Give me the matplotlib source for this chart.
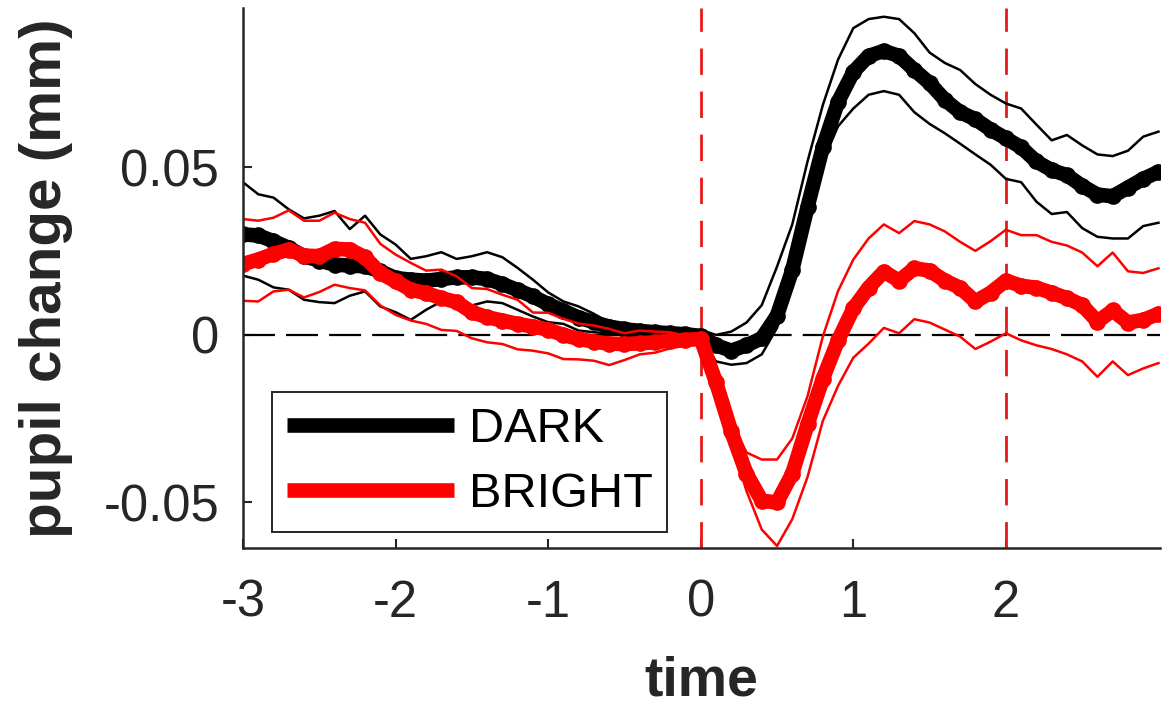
import numpy as np
import matplotlib
matplotlib.use('Agg')
import matplotlib.pyplot as plt

plt.rcParams['font.family'] = ['Liberation Sans', 'DejaVu Sans']
plt.rcParams['lines.scale_dashes'] = False

# time axis (s), 0.1 s steps from -3 to 3
time = np.round(np.arange(-3.0, 3.0001, 0.1), 2)

# DARK condition: mean and upper / lower bounds
dark_mean = [0.0300, 0.0297, 0.0280, 0.0260, 0.0235, 0.0222, 0.0210, 0.0207, 0.0205, 0.0190,
             0.0170, 0.0165, 0.0162, 0.0167, 0.0172, 0.0172, 0.0167, 0.0152, 0.0134, 0.0115,
             0.0092, 0.0072, 0.0052, 0.0038, 0.0025, 0.0017, 0.0012, 0.0008, 0.0005, 0.0002,
             -0.0003, -0.0031, -0.0047, -0.0031, -0.0010, 0.0058, 0.0194, 0.0382, 0.0560, 0.0696,
             0.0785, 0.0833, 0.0848, 0.0833, 0.0791, 0.0752, 0.0702, 0.0665, 0.0644, 0.0613,
             0.0587, 0.0560, 0.0518, 0.0492, 0.0477, 0.0445, 0.0419, 0.0414, 0.0440, 0.0466,
             0.0487]
dark_upper = [0.0456, 0.0420, 0.0410, 0.0375, 0.0348, 0.0356, 0.0370, 0.0316, 0.0356, 0.0300,
              0.0270, 0.0227, 0.0235, 0.0247, 0.0227, 0.0235, 0.0247, 0.0232, 0.0200, 0.0165,
              0.0127, 0.0100, 0.0085, 0.0063, 0.0036, 0.0035, 0.0022, 0.0010, 0.0008, 0.0010,
              0.0015, 0.0000, 0.0010, 0.0037, 0.0089, 0.0204, 0.0330, 0.0518, 0.0686, 0.0822,
              0.0916, 0.0943, 0.0950, 0.0943, 0.0901, 0.0843, 0.0812, 0.0791, 0.0749, 0.0717,
              0.0691, 0.0676, 0.0628, 0.0581, 0.0597, 0.0566, 0.0539, 0.0534, 0.0550, 0.0592,
              0.0607]
dark_lower = [0.0177, 0.0165, 0.0142, 0.0135, 0.0105, 0.0098, 0.0095, 0.0117, 0.0130, 0.0085,
              0.0068, 0.0045, 0.0075, 0.0100, 0.0095, 0.0088, 0.0100, 0.0095, 0.0075, 0.0055,
              0.0038, 0.0033, 0.0013, 0.0008, 0.0005, 0.0003, 0.0003, 0.0003, 0.0003, 0.0000,
              -0.0005, -0.0079, -0.0089, -0.0084, -0.0058, 0.0021, 0.0173, 0.0351, 0.0518, 0.0623,
              0.0676, 0.0717, 0.0728, 0.0717, 0.0665, 0.0630, 0.0602, 0.0571, 0.0539, 0.0508,
              0.0466, 0.0456, 0.0398, 0.0361, 0.0367, 0.0319, 0.0293, 0.0288, 0.0288, 0.0325,
              0.0335]

# BRIGHT condition
bright_mean = [0.0212, 0.0225, 0.0242, 0.0255, 0.0237, 0.0235, 0.0257, 0.0255, 0.0232, 0.0185,
               0.0160, 0.0135, 0.0125, 0.0110, 0.0098, 0.0068, 0.0053, 0.0043, 0.0033, 0.0025,
               0.0016, 0.0000, -0.0012, -0.0020, -0.0026, -0.0027, -0.0025, -0.0022, -0.0017, -0.0015,
               -0.0012, -0.0141, -0.0288, -0.0414, -0.0495, -0.0500, -0.0414, -0.0267, -0.0131, -0.0016,
               0.0079, 0.0141, 0.0189, 0.0162, 0.0199, 0.0192, 0.0162, 0.0141, 0.0100, 0.0126,
               0.0162, 0.0147, 0.0141, 0.0126, 0.0110, 0.0089, 0.0040, 0.0073, 0.0037, 0.0045,
               0.0063]
bright_upper = [0.0346, 0.0341, 0.0350, 0.0372, 0.0341, 0.0341, 0.0365, 0.0346, 0.0335, 0.0272,
                0.0240, 0.0215, 0.0192, 0.0195, 0.0175, 0.0140, 0.0137, 0.0120, 0.0105, 0.0067,
                0.0066, 0.0048, 0.0034, 0.0028, 0.0018, 0.0005, 0.0013, 0.0010, 0.0008, -0.0002,
                -0.0004, -0.0135, -0.0257, -0.0351, -0.0372, -0.0372, -0.0309, -0.0183, -0.0005, 0.0131,
                0.0225, 0.0288, 0.0330, 0.0304, 0.0340, 0.0330, 0.0309, 0.0278, 0.0251, 0.0280,
                0.0314, 0.0298, 0.0298, 0.0278, 0.0267, 0.0246, 0.0205, 0.0246, 0.0190, 0.0185,
                0.0199]
bright_lower = [0.0102, 0.0100, 0.0130, 0.0135, 0.0112, 0.0128, 0.0150, 0.0140, 0.0133, 0.0088,
                0.0060, 0.0043, 0.0033, 0.0015, 0.0012, -0.0010, -0.0022, -0.0027, -0.0043, -0.0047,
                -0.0055, -0.0072, -0.0073, -0.0077, -0.0090, -0.0075, -0.0058, -0.0053, -0.0040, -0.0032,
                -0.0022, -0.0152, -0.0319, -0.0466, -0.0581, -0.0630, -0.0550, -0.0424, -0.0257, -0.0152,
                -0.0068, -0.0026, 0.0021, 0.0005, 0.0047, 0.0037, 0.0016, -0.0005, -0.0042, -0.0020,
                0.0005, -0.0016, -0.0031, -0.0042, -0.0058, -0.0079, -0.0125, -0.0079, -0.0120, -0.0100,
                -0.0084]

event_times = [0, 2]
xticks = [-3, -2, -1, 0, 1, 2]
yticks = [-0.05, 0, 0.05]
ytick_labels = ['-0.05', '0', '0.05']
labels = ['DARK', 'BRIGHT']

axc = '#262626'

fig = plt.figure(figsize=(11.71, 7.11), dpi=100)
ax = fig.add_axes([0.2075, 0.2293, 0.7831, 0.7594])

ax.axhline(0, color='k', lw=1.6, dashes=(23, 8))
for t in event_times:
    ax.axvline(t, color=(0.9, 0.1, 0.1), lw=2.0, dashes=(19, 12))

thick = dict(lw=10.5, solid_capstyle='round', solid_joinstyle='round',
             marker='o', markersize=12, markeredgewidth=0)
ax.plot(time, dark_mean, color='k', **thick)
ax.plot(time, dark_upper, color='k', lw=1.8)
ax.plot(time, dark_lower, color='k', lw=1.8)
ax.plot(time, bright_mean, color='#ff0000', **thick)
ax.plot(time, bright_upper, color='#ff0000', lw=1.8)
ax.plot(time, bright_lower, color='#ff0000', lw=1.8)

ax.set_xlim(-3, 3.01)
ax.set_ylim(-0.0636, 0.0976)
ax.set_xticks(xticks)
ax.set_xticklabels([str(v) for v in xticks])
ax.set_yticks(yticks)
ax.set_yticklabels(ytick_labels)

for s in ['top', 'right']:
    ax.spines[s].set_visible(False)
for s in ['left', 'bottom']:
    ax.spines[s].set_color(axc)
    ax.spines[s].set_linewidth(1.8)
ax.tick_params(direction='in', length=6.5, width=1.5, colors=axc, labelsize=36.5)
ax.tick_params(axis='x', pad=22)
ax.tick_params(axis='y', pad=17)

ax.set_xlabel('time', fontsize=40, fontweight='bold', color=axc)
ax.set_ylabel('pupil change (mm)', fontsize=42, fontweight='bold', color=axc)
ax.xaxis.set_label_coords(0.5, -0.20)
ax.yaxis.set_label_coords(-0.185, 0.5)

handles = [plt.Line2D([], [], color='k', lw=10.5, solid_capstyle='butt'),
           plt.Line2D([], [], color='#ff0000', lw=10.5, solid_capstyle='butt')]
leg = ax.legend(handles, labels, loc='lower left', bbox_to_anchor=(0.0316, 0.0296),
                fontsize=35, handlelength=3.45, handletextpad=0.3, labelspacing=0.42,
                borderpad=0.3, borderaxespad=0, fancybox=False, framealpha=1)
leg.get_frame().set_edgecolor(axc)
leg.get_frame().set_linewidth(1.4)

fig.savefig('out.png', dpi=100)
